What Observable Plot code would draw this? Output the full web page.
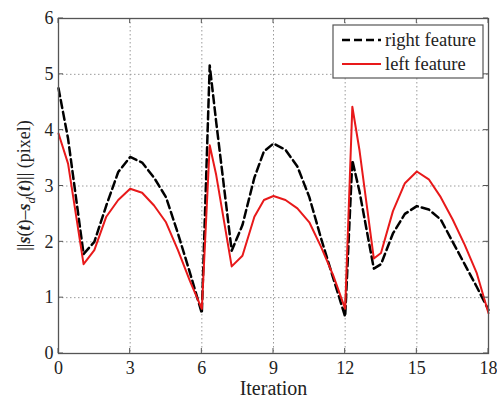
<!DOCTYPE html>
<html>
<head>
<meta charset="utf-8">
<script src="https://cdn.jsdelivr.net/npm/d3@7"></script>
<script src="https://cdn.jsdelivr.net/npm/@observablehq/plot@0.6"></script>
<style>
  html, body { margin: 0; padding: 0; background: #fff; }
  #chart svg { display: block; }
</style>
</head>
<body>
<div id="chart"></div>
<script>
const iteration = [0, 0.4, 1.05, 1.5, 2.0, 2.5, 3.0, 3.5, 4.0, 4.5, 5.0, 5.5, 6.0,
  6.33, 6.6, 7.25, 7.7, 8.2, 8.6, 9.0, 9.5, 10.0, 10.5, 11.0, 11.5, 12.0,
  12.3, 12.6, 13.2, 13.5, 14.0, 14.5, 15.0, 15.5, 16.0, 16.5, 17.0, 17.5, 18.0];
const rightFeature = [4.75, 3.85, 1.78, 2.0, 2.65, 3.25, 3.52, 3.42, 3.15, 2.8, 2.15, 1.45, 0.72,
  5.16, 4.15, 1.84, 2.3, 3.15, 3.62, 3.76, 3.65, 3.35, 2.8, 2.05, 1.35, 0.66,
  3.46, 2.9, 1.52, 1.6, 2.15, 2.5, 2.64, 2.58, 2.4, 2.0, 1.6, 1.2, 0.78];
const leftFeature = [3.94, 3.4, 1.6, 1.85, 2.45, 2.75, 2.95, 2.88, 2.65, 2.35, 1.85, 1.3, 0.8,
  3.73, 3.2, 1.56, 1.75, 2.45, 2.75, 2.82, 2.75, 2.6, 2.35, 1.9, 1.4, 0.8,
  4.42, 3.64, 1.7, 1.8, 2.55, 3.05, 3.26, 3.12, 2.8, 2.4, 1.95, 1.45, 0.72];
const xTicks = [0, 3, 6, 9, 12, 15, 18];
const yTicks = [0, 1, 2, 3, 4, 5, 6];
const seriesNames = ["right feature", "left feature"];

const rows = iteration.map((x, i) => ({x, right: rightFeature[i], left: leftFeature[i]}));
const serif = "Liberation Serif, DejaVu Serif, serif";
const gridStyle = {stroke: "#9a9a9a", strokeOpacity: 1, strokeWidth: 1, strokeDasharray: "1.5,2.5"};

const chart = Plot.plot({
  width: 497,
  height: 398,
  marginLeft: 58,
  marginRight: 9,
  marginTop: 18,
  marginBottom: 45,
  x: {domain: [0, 18]},
  y: {domain: [0, 6]},
  style: {fontFamily: serif, fontSize: "18px", color: "#222", background: "#fff"},
  marks: [
    Plot.gridX(xTicks, gridStyle),
    Plot.gridY(yTicks, gridStyle),
    Plot.axisX(xTicks, {tickSize: 0, tickPadding: 8, label: null, fontSize: 18, fill: "#222", tickFormat: d => String(d)}),
    Plot.axisY(yTicks, {tickSize: 0, tickPadding: 5, label: null, fontSize: 18, fill: "#222", tickFormat: d => String(d)}),
    Plot.line(rows, {x: "x", y: "right", stroke: "#000", strokeWidth: 2.5, strokeDasharray: "8,4"}),
    Plot.line(rows, {x: "x", y: "left", stroke: "#e8191a", strokeWidth: 2}),
    Plot.frame({stroke: "#555", strokeWidth: 1.3}),
    Plot.text(["Iteration"], {frameAnchor: "bottom", dy: 41, fontSize: 20, fill: "#222", lineAnchor: "bottom"})
  ]
});

const svg = d3.select(chart);
const xs = chart.scale("x"), ys = chart.scale("y");
const [x0, x1] = xs.range, [y0, y1] = ys.range;

// inward MATLAB-style ticks on all four sides
const tk = svg.append("g").attr("stroke", "#555").attr("stroke-width", 1);
for (const t of xTicks) {
  const px = xs.apply(t);
  tk.append("line").attr("x1", px).attr("x2", px).attr("y1", y0).attr("y2", y0 - 5);
  tk.append("line").attr("x1", px).attr("x2", px).attr("y1", y1).attr("y2", y1 + 5);
}
for (const t of yTicks) {
  const py = ys.apply(t);
  tk.append("line").attr("x1", x0).attr("x2", x0 + 5).attr("y1", py).attr("y2", py);
  tk.append("line").attr("x1", x1).attr("x2", x1 - 5).attr("y1", py).attr("y2", py);
}

// y axis label with subscript
const yl = svg.append("text")
  .attr("transform", `translate(30,${(y0 + y1) / 2}) rotate(-90)`)
  .attr("text-anchor", "middle")
  .attr("font-family", serif)
  .attr("font-size", 18)
  .attr("fill", "#222");
yl.append("tspan").text("||");
yl.append("tspan").attr("font-style", "italic").attr("font-weight", "bold").text("s");
yl.append("tspan").text("(");
yl.append("tspan").attr("font-style", "italic").attr("font-weight", "bold").text("t");
yl.append("tspan").text(")–");
yl.append("tspan").attr("font-style", "italic").attr("font-weight", "bold").text("s");
yl.append("tspan").attr("font-style", "italic").attr("font-size", 13).attr("dy", 5).text("d");
yl.append("tspan").attr("dy", -5).text("(");
yl.append("tspan").attr("font-style", "italic").attr("font-weight", "bold").text("t");
yl.append("tspan").text(")|| (pixel)");

// legend
const lg = svg.append("g");
const lx = 333, ly = 25, lw = 150, lh = 53;
lg.append("rect").attr("x", lx).attr("y", ly).attr("width", lw).attr("height", lh)
  .attr("fill", "#fff").attr("stroke", "#555").attr("stroke-width", 1.2);
const legendStyles = [
  {stroke: "#000", width: 2.5, dash: "8,4"},
  {stroke: "#e8191a", width: 2, dash: null}
];
seriesNames.forEach((name, i) => {
  const cy = ly + 15 + i * 24;
  const l = lg.append("line").attr("x1", lx + 9).attr("x2", lx + 48).attr("y1", cy).attr("y2", cy)
    .attr("stroke", legendStyles[i].stroke).attr("stroke-width", legendStyles[i].width);
  if (legendStyles[i].dash) l.attr("stroke-dasharray", legendStyles[i].dash);
  lg.append("text").attr("x", lx + 52).attr("y", cy + 6).attr("text-anchor", "start")
    .attr("font-family", serif).attr("font-size", 18.5).attr("fill", "#222").text(name);
});

document.getElementById("chart").appendChild(chart);
</script>
</body>
</html>
